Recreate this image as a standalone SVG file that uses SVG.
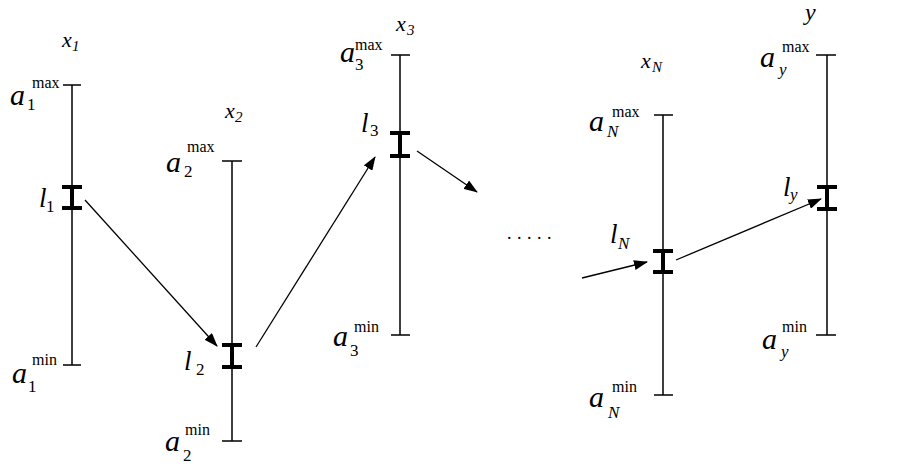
<svg xmlns="http://www.w3.org/2000/svg" width="903" height="468" viewBox="0 0 903 468">
<defs>
<style>
.ax{stroke:#000;stroke-width:1.5;fill:none}
.bar{stroke:#000;stroke-width:4;fill:none}
.con{stroke:#000;stroke-width:1.3;fill:none;marker-end:url(#ah)}
text{font-family:"Liberation Serif","Times New Roman",serif;fill:#000}
.it{font-style:italic}
.big{font-size:30px}
.l{font-size:27px}
.sub{font-size:17px}
.sup{font-size:16px}
.xl{font-size:22px;font-style:italic}
.xs{font-size:15px;font-style:italic}
</style>
<marker id="ah" markerWidth="14" markerHeight="10" refX="13" refY="5" orient="auto" markerUnits="userSpaceOnUse">
<path d="M0,0 L14,5 L0,10 Z" fill="#000"/>
</marker>
</defs>
<rect width="903" height="468" fill="#fff"/>

<g id="axis-x1">
<path class="ax" d="M72,85 V365 M63,85 H81 M63,365 H81"/>
<path class="bar" d="M72,187 V208 M62,187 H82 M62,208 H82"/>
<text><tspan class="xl" x="62" y="47">x</tspan><tspan class="xs" x="72" y="51">1</tspan></text>
<text><tspan class="it big" x="10" y="105">a</tspan><tspan class="sub" x="27" y="110">1</tspan><tspan class="sup" x="32" y="88">max</tspan></text>
<text><tspan class="it l" x="39" y="207">l</tspan><tspan class="sub" x="46" y="212">1</tspan></text>
<text><tspan class="it big" x="12" y="383">a</tspan><tspan class="sub" x="28" y="392">1</tspan><tspan class="sup" x="32" y="365">min</tspan></text>
</g>

<g id="axis-x2">
<path class="ax" d="M232,161 V441 M222,161 H242 M222,441 H242"/>
<path class="bar" d="M232,345 V367 M222,345 H242 M222,367 H242"/>
<text><tspan class="xl" x="225" y="118">x</tspan><tspan class="xs" x="235" y="122">2</tspan></text>
<text><tspan class="it big" x="166" y="172">a</tspan><tspan class="sub" x="184" y="177">2</tspan><tspan class="sup" x="187" y="152">max</tspan></text>
<text><tspan class="it l" x="184" y="370">l</tspan><tspan class="sub" x="196" y="375">2</tspan></text>
<text><tspan class="it big" x="165" y="451">a</tspan><tspan class="sub" x="183" y="461">2</tspan><tspan class="sup" x="185" y="435">min</tspan></text>
</g>

<g id="axis-x3">
<path class="ax" d="M400,55 V335 M391,55 H410 M391,335 H410"/>
<path class="bar" d="M400,133 V156 M390,133 H410 M390,156 H410"/>
<text><tspan class="xl" x="396" y="31">x</tspan><tspan class="xs" x="407" y="35">3</tspan></text>
<text><tspan class="it big" x="340" y="62">a</tspan><tspan class="sub" x="355" y="70">3</tspan><tspan class="sup" x="355" y="50">max</tspan></text>
<text><tspan class="it l" x="361" y="132">l</tspan><tspan class="sub" x="370" y="136">3</tspan></text>
<text><tspan class="it big" x="333" y="346">a</tspan><tspan class="sub" x="350" y="356">3</tspan><tspan class="sup" x="354" y="332">min</tspan></text>
</g>

<g id="ellipsis">
<text x="507" y="239" style="font-size:18px;letter-spacing:5.5px">.....</text>
</g>

<g id="axis-xN">
<path class="ax" d="M663,115 V395 M654,115 H673 M654,395 H673"/>
<path class="bar" d="M663,251 V272 M653,251 H673 M653,272 H673"/>
<text><tspan class="xl" x="641" y="68">x</tspan><tspan class="xs" x="652" y="72">N</tspan></text>
<text><tspan class="it big" x="589" y="131">a</tspan><tspan class="it sub" x="607" y="137">N</tspan><tspan class="sup" x="612" y="117">max</tspan></text>
<text><tspan class="it l" x="610" y="243">l</tspan><tspan class="it sub" x="618" y="249">N</tspan></text>
<text><tspan class="it big" x="589" y="407">a</tspan><tspan class="it sub" x="608" y="418">N</tspan><tspan class="sup" x="612" y="392">min</tspan></text>
</g>

<g id="axis-y">
<path class="ax" d="M827,55 V335 M816,55 H836 M816,335 H836"/>
<path class="bar" d="M827,187 V209 M817,187 H837 M817,209 H837"/>
<text class="it" x="805" y="20" style="font-size:24px">y</text>
<text><tspan class="it big" x="760" y="67">a</tspan><tspan class="it sub" x="779" y="75">y</tspan><tspan class="sup" x="782" y="52">max</tspan></text>
<text><tspan class="it l" x="783" y="196">l</tspan><tspan class="it sub" x="790" y="200">y</tspan></text>
<text><tspan class="it big" x="762" y="349">a</tspan><tspan class="it sub" x="781" y="357">y</tspan><tspan class="sup" x="782" y="332">min</tspan></text>
</g>

<g id="connectors">
<line class="con" x1="85" y1="200" x2="217" y2="346"/>
<line class="con" x1="256" y1="347" x2="375" y2="157"/>
<line class="con" x1="417" y1="151" x2="477" y2="192"/>
<line class="con" x1="582" y1="278" x2="647" y2="262"/>
<line class="con" x1="676" y1="260" x2="821" y2="199"/>
</g>
</svg>
